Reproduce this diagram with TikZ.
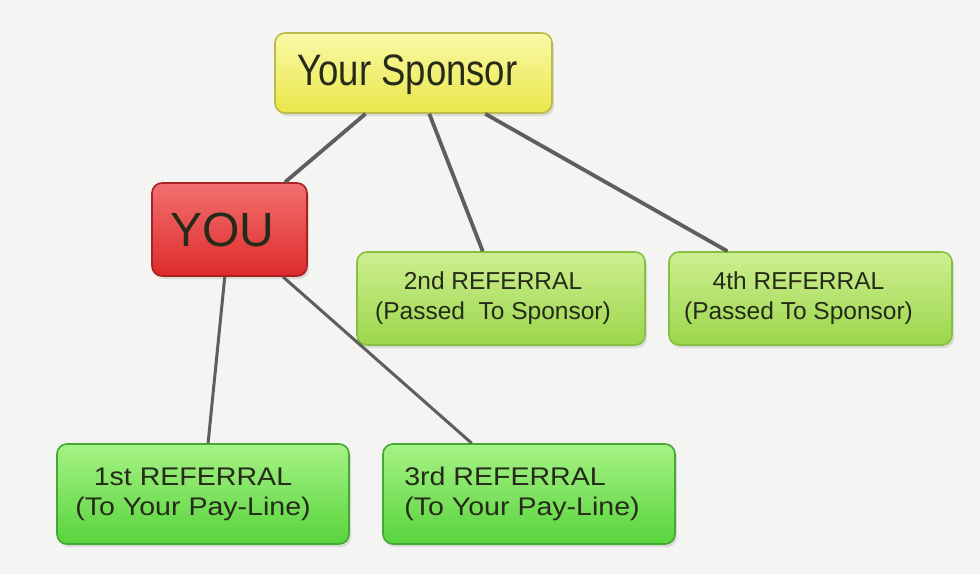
\documentclass[tikz,border=0pt]{standalone}
\usepackage{fontspec}
\setmainfont{Liberation Sans}
\newfontfamily\narrowfont[FakeStretch=0.83]{Liberation Sans}
\newfontfamily\widefont[FakeStretch=1.12]{Liberation Sans}
\usetikzlibrary{shadows}
\definecolor{bgc}{HTML}{F4F4F2}
\definecolor{linec}{HTML}{5E5E5E}
\definecolor{txt}{HTML}{262A18}
\definecolor{yelT}{HTML}{FAF9A8}
\definecolor{yelB}{HTML}{E9E748}
\definecolor{yelD}{HTML}{BDB94A}
\definecolor{redT}{HTML}{F27070}
\definecolor{redB}{HTML}{DE2A2A}
\definecolor{redD}{HTML}{A82222}
\definecolor{lgT}{HTML}{CDEF90}
\definecolor{lgB}{HTML}{9CD64C}
\definecolor{lgD}{HTML}{86C040}
\definecolor{gT}{HTML}{A6F286}
\definecolor{gB}{HTML}{58D43C}
\definecolor{gD}{HTML}{46A834}
\begin{document}
\begin{tikzpicture}[x=1pt,y=-1pt,
  box/.style={draw, line width=1.6pt, rounded corners=10pt, inner sep=0pt,
    drop shadow={opacity=0.22, shadow xshift=2pt, shadow yshift=-3pt}},
  yelbox/.style={box, draw=yelD, top color=yelT, bottom color=yelB,
    minimum width=277pt, minimum height=80pt},
  redbox/.style={box, draw=redD, top color=redT, bottom color=redB,
    minimum width=155pt, minimum height=93pt},
  midbox/.style={box, draw=lgD, top color=lgT, bottom color=lgB,
    minimum height=93pt},
  lowbox/.style={box, draw=gD, top color=gT, bottom color=gB,
    minimum width=292pt, minimum height=100pt},
  lbl/.style={inner sep=0pt, align=center, text=txt},
  sptext/.style={lbl, font=\narrowfont\fontsize{44}{48}\selectfont},
  youtext/.style={lbl, font=\fontsize{48}{52}\selectfont},
  midtext/.style={lbl, font=\fontsize{24.5}{30}\selectfont},
  lowtext/.style={lbl, font=\widefont\fontsize{25.5}{30}\selectfont},
  conn/.style={draw=linec, line width=3.8pt},
  conn2/.style={draw=linec, line width=3pt}
]
\fill[bgc] (0,0) rectangle (980,574);
\useasboundingbox (0,0) rectangle (980,574);

\node[yelbox] (sp) at (413.5,73) {};
\node[redbox] (you) at (229.5,229.5) {};
\node[midbox, minimum width=288pt] (r2) at (501,298.5) {};
\node[midbox, minimum width=283pt] (r4) at (810.5,298.5) {};
\node[lowbox] (r1) at (203,494) {};
\node[lowbox] (r3) at (529,494) {};

\node[sptext] (tsp) at ([xshift=-6pt,yshift=-2pt]sp.center) {Your Sponsor};
\node[youtext] (tyou) at ([xshift=-7pt]you.center) {YOU};
\node[midtext] (t2) at ([xshift=-8pt]r2.center) {2nd REFERRAL\\(Passed\ \ To Sponsor)};
\node[midtext] (t4) at ([xshift=-12pt]r4.center) {4th REFERRAL\\(Passed To Sponsor)};
\node[lowtext] (t1) at ([xshift=-10pt]r1.center) {1st REFERRAL\\(To Your Pay-Line)};
\node[lowtext, align=left] (t3) at ([xshift=-7pt]r3.center) {3rd REFERRAL\\(To Your Pay-Line)};

\draw[conn] (sp) -- (you);
\draw[conn] (sp) -- (r2);
\draw[conn] (sp) -- (r4);
\draw[conn2] (you) -- (r1);
\draw[conn2] (you) -- (r3);
\end{tikzpicture}
\end{document}
